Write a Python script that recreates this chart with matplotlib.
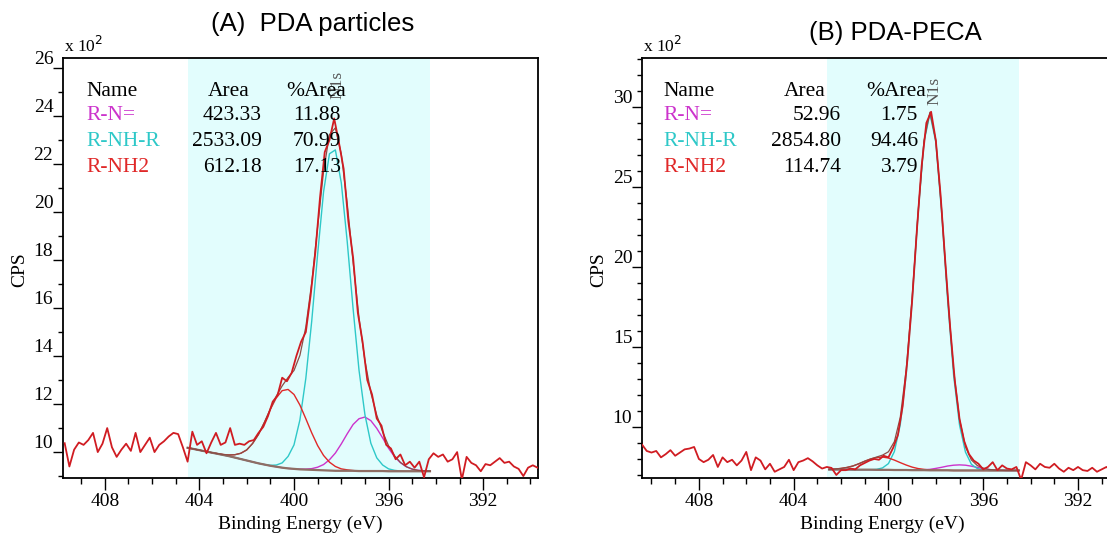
import numpy as np
import matplotlib
matplotlib.use("Agg")
import matplotlib.pyplot as plt
from matplotlib.ticker import MultipleLocator

W, H = 1107, 537
SERIF = "Liberation Serif"
SANS = "Liberation Sans"

# ---- (A) PDA particles ----
# raw N1s counts (x100), 0.2 eV steps starting at 409.7 eV
cps_a = [10.37, 9.4, 10.1, 10.4, 10.3, 10.5, 10.8, 10.0, 10.35, 11.0,
         10.2, 9.8, 10.1, 10.35, 10.05, 10.8, 10.0, 10.3, 10.6, 10.0,
         10.3, 10.45, 10.65, 10.8, 10.75, 10.2, 9.6, 10.85, 10.3, 10.45,
         9.95, 10.4, 10.8, 10.3, 10.4, 11.0, 10.3, 10.35, 10.3, 10.45,
         10.5, 10.8, 11.05, 11.5, 12.1, 12.35, 13.1, 12.95, 13.3, 14.0,
         14.6, 15.0, 16.5, 18.3, 20.6, 22.5, 23.0, 23.9, 22.9, 21.8,
         19.6, 18.1, 15.8, 14.6, 13.0, 12.4, 11.4, 11.1, 10.3, 10.15,
         9.7, 9.9, 9.45, 9.6, 9.35, 9.6, 8.95, 9.7, 9.95, 9.8,
         9.9, 9.6, 9.7, 10.0, 8.85, 9.8, 9.55, 9.45, 9.2, 9.5,
         9.45, 9.6, 9.75, 9.55, 9.6, 9.4, 9.3, 9.0, 9.35, 9.45, 9.35]
# fit window, 0.25 eV steps starting at 404.5 eV
bg_a = [10.18, 10.13, 10.08, 10.03, 9.98, 9.93, 9.88, 9.83, 9.77, 9.71,
        9.65, 9.59, 9.53, 9.48, 9.43, 9.39, 9.35, 9.32, 9.30, 9.28,
        9.27, 9.26, 9.25, 9.24, 9.23, 9.22, 9.22, 9.22, 9.22, 9.21,
        9.21, 9.21, 9.21, 9.21, 9.20, 9.20, 9.20, 9.20, 9.20, 9.20, 9.20, 9.20]
rn_a = [0] * 19 + [0.01, 0.02, 0.05, 0.12, 0.24, 0.45, 0.74, 1.12, 1.54, 1.93,
                   2.18, 2.25, 2.1, 1.78, 1.38, 0.96, 0.61, 0.36, 0.19, 0.09,
                   0.04, 0.02, 0.01]
rnhr_a = [0] * 14 + [0.02, 0.07, 0.2, 0.5, 1.0, 2.06, 3.8, 6.2, 9.0, 11.6,
                     13.2, 13.37, 12.0, 9.56, 6.75, 4.2, 2.35, 1.16, 0.55, 0.25,
                     0.1, 0.04, 0.01, 0, 0, 0, 0, 0]
rnh2_a = [0, 0, 0, 0, 0, 0.01, 0.02, 0.05, 0.12, 0.24,
          0.44, 0.77, 1.21, 1.76, 2.35, 2.87, 3.21, 3.29, 3.1, 2.68,
          2.12, 1.54, 1.02, 0.62, 0.35, 0.18, 0.08, 0.04, 0.01] + [0] * 13
area_a = ["423.33", "2533.09", "612.18"]
pct_a = ["11.88", "70.99", "17.13"]

# ---- (B) PDA-PECA ----
# raw N1s counts (x100), 0.2 eV steps starting at 410.4 eV
cps_b = [8.9, 8.5, 8.4, 8.5, 8.1, 8.3, 8.55, 8.2, 8.4, 8.6,
         8.65, 8.75, 8.0, 7.8, 7.95, 8.25, 7.5, 8.1, 7.8, 7.95,
         7.6, 7.9, 8.44, 7.3, 8.1, 7.9, 7.35, 7.7, 7.2, 7.35,
         7.5, 7.95, 7.3, 7.8, 7.9, 8.05, 7.85, 7.6, 7.4, 7.5,
         7.44, 7.0, 7.3, 7.3, 7.4, 7.35, 7.6, 7.75, 7.9, 8.0,
         7.95, 8.2, 8.1, 8.7, 9.5, 11.3, 14.2, 17.9, 22.3, 26.3,
         29.0, 29.7, 27.9, 24.5, 20.3, 16.3, 12.9, 10.5, 9.1, 8.3,
         7.9, 7.7, 7.35, 7.5, 7.8, 7.3, 7.6, 7.4, 7.35, 7.5,
         6.7, 7.8, 7.6, 7.35, 7.7, 7.5, 7.45, 7.7, 7.4, 7.2,
         7.45, 7.3, 7.5, 7.3, 7.25, 7.45, 7.2, 7.35, 7.5, 7.3,
         7.4, 7.3, 7.35]
# fit window, 0.25 eV steps starting at 402.5 eV
bg_b = [7.34, 7.34, 7.34, 7.34, 7.33, 7.33, 7.33, 7.33, 7.32, 7.32,
        7.32, 7.31, 7.31, 7.31, 7.30, 7.30, 7.30, 7.29, 7.29, 7.29,
        7.29, 7.28] + [7.28] * 11
rn_b = [0] * 16 + [0.03, 0.06, 0.12, 0.19, 0.27, 0.33, 0.35, 0.33, 0.27, 0.19,
                   0.12, 0.06, 0.03, 0.01, 0, 0, 0]
rnhr_b = [0] * 8 + [0.03, 0.12, 0.39, 1.15, 2.84, 5.96, 10.6, 16.0, 20.5, 22.3,
                    20.5, 16.0, 10.6, 5.96, 2.84, 1.15, 0.39, 0.12, 0.03] + [0] * 6
rnh2_b = [0.01, 0.03, 0.07, 0.13, 0.23, 0.37, 0.53, 0.67, 0.77, 0.8,
          0.74, 0.62, 0.46, 0.31, 0.19, 0.10, 0.05, 0.02, 0.01] + [0] * 14
area_b = ["52.96", "2854.80", "114.74"]
pct_b = ["1.75", "94.46", "3.79"]

names = ["R-N=", "R-NH-R", "R-NH2"]
comp_colors = ["#cc33cc", "#2ec8c8", "#e02828"]
data_color = "#d01c22"
bg_color = "#8e6e64"
env_color = "#8a4e46"
shade_color = "#e2fdfd"
TFS = 15.5   # table font size


def fp(x, y):
    return x / W, 1 - y / H


fig = plt.figure(figsize=(W / 100, H / 100), dpi=100)
axA = fig.add_axes([63 / W, 59 / H, 475 / W, 420 / H])
axB = fig.add_axes([642 / W, 59 / H, 468 / W, 420 / H])

panels = [
    dict(ax=axA, cps=cps_a, e0=409.7, bg=bg_a, f0=404.5, comps=[rn_a, rnhr_a, rnh2_a],
         span=(404.5, 394.23), xlim=(409.77, 389.68), ylim=(8.92, 26.42), ymaj=2,
         area=area_a, pct=pct_a, title="(A)  PDA particles", tpos=(313, 24),
         xoff=0, cols=(86, 262, 341, 250, 346), peak=(398.15, 25.3), xlab=300),
    dict(ax=axB, cps=cps_b, e0=410.4, bg=bg_b, f0=402.5, comps=[rn_b, rnhr_b, rnh2_b],
         span=(402.6, 394.47), xlim=(410.4, 390.65), ylim=(6.81, 33.06), ymaj=5,
         area=area_b, pct=pct_b, title="(B) PDA-PECA", tpos=(895, 33),
         xoff=579, cols=(663, 841, 918, 826, 926), peak=(398.05, 31.0), xlab=882),
]

for p in panels:
    ax = p["ax"]
    e_raw = p["e0"] - 0.2 * np.arange(len(p["cps"]))
    e_fit = p["f0"] - 0.25 * np.arange(len(p["bg"]))
    bg = np.array(p["bg"])
    comps = [np.array(c) for c in p["comps"]]

    ax.axvspan(*p["span"], color=shade_color, lw=0, zorder=0)
    for c, col in zip(comps, comp_colors):
        ax.plot(e_fit, bg + c, color=col, lw=1.0, zorder=2)
    ax.plot(e_fit, bg, color=bg_color, lw=1.6, zorder=3)
    ax.plot(e_fit, bg + sum(comps), color=env_color, lw=0.9, zorder=4)
    ax.plot(e_raw, p["cps"], color=data_color, lw=1.3, zorder=5)

    ax.set_xlim(*p["xlim"])
    ax.set_ylim(*p["ylim"])
    ax.xaxis.set_major_locator(MultipleLocator(4))
    ax.xaxis.set_minor_locator(MultipleLocator(1))
    ax.yaxis.set_major_locator(MultipleLocator(p["ymaj"]))
    ax.yaxis.set_minor_locator(MultipleLocator(1))
    ax.tick_params(axis="x", which="major", direction="out", length=8.5, width=1, pad=2,
                   labelsize=14)
    ax.tick_params(axis="x", which="minor", direction="out", length=4.3, width=1)
    ax.tick_params(axis="y", which="major", direction="out", length=7, width=1, pad=0,
                   labelsize=14)
    ax.tick_params(axis="y", which="minor", direction="out", length=3.6, width=1)
    for lbl in ax.get_xticklabels() + ax.get_yticklabels():
        lbl.set_fontfamily(SERIF)
    for lbl in ax.get_yticklabels():
        lbl.set_verticalalignment("bottom")
    for s in ax.spines.values():
        s.set_linewidth(1.3)

    # peak label
    ax.text(p["peak"][0], p["peak"][1], "N1s", rotation=90, ha="center", va="center",
            fontsize=12.5, family=SERIF, color="#555555", zorder=6)

    # component table
    xn, xa, xp, xah, xph = p["cols"]
    fig.text(*fp(xn, 92), "Name", fontsize=TFS, family=SERIF, va="center", ha="left")
    fig.text(*fp(xah, 92), "Area", fontsize=TFS, family=SERIF, va="center", ha="right")
    fig.text(*fp(xph, 92), "%Area", fontsize=TFS, family=SERIF, va="center", ha="right")
    for i, (nm, col) in enumerate(zip(names, comp_colors)):
        y = 116 + 25.5 * i
        fig.text(*fp(xn, y), nm, fontsize=TFS, family=SERIF, va="center", ha="left",
                 color=col)
        fig.text(*fp(xa, y), p["area"][i], fontsize=TFS, family=SERIF, va="center",
                 ha="right")
        fig.text(*fp(xp, y), p["pct"][i], fontsize=TFS, family=SERIF, va="center",
                 ha="right")

    # multiplier, axis labels, title
    fig.text(*fp(64 + p["xoff"], 46), r"x 10$^2$", fontsize=12.5, family=SERIF,
             va="center", ha="left")
    fig.text(*fp(20 + p["xoff"], 270), "CPS", fontsize=14, family=SERIF, rotation=90,
             va="center", ha="center")
    fig.text(*fp(p["xlab"], 524), "Binding Energy (eV)", fontsize=14, family=SERIF,
             va="center", ha="center")
    fig.text(*fp(*p["tpos"]), p["title"], fontsize=18.5, family=SANS, va="center",
             ha="center")

fig.savefig("out.png", dpi=100)
